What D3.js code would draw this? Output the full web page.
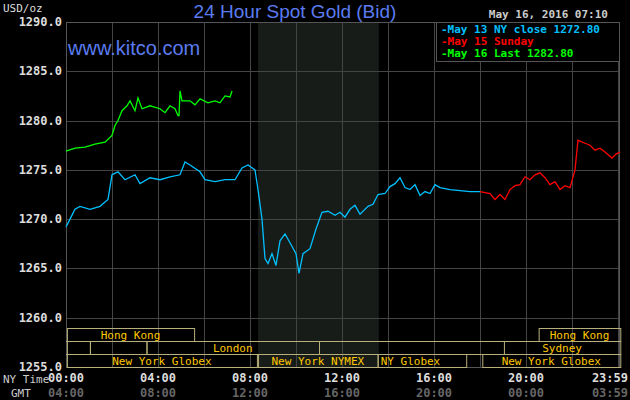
<!DOCTYPE html><html><head><meta charset="utf-8"><script src="https://cdn.jsdelivr.net/npm/d3@7"></script>
<style>body{margin:0;background:#000}</style></head><body><svg id="c" width="630" height="400"></svg><script>
const yTicks=[1290,1285,1280,1275,1270,1265,1260,1255];
const xTicksNY=["00:00","04:00","08:00","12:00","16:00","20:00","23:59"];
const xTicksGMT=["04:00","08:00","12:00","16:00","20:00","00:00","03:59"];
const xTickHours=[0,4,8,12,16,20,24];
const bluePx=[66,70,75,80,90,100,108,112,118,125,135,140,150,160,170,180,185,190,200,205,215,225,235,242,248,255,258,262,265,268,272,276,280,285,290,296,299,303,310,316,322,328,335,340,345,350,355,360,368,373,378,385,390,395,400,405,410,415,420,425,430,435,440,450,460,470,480];
const blueVal=[1269.2,1270,1271,1271.3,1271,1271.3,1272,1274.5,1274.8,1274,1274.5,1273.6,1274.2,1274,1274.3,1274.5,1275.8,1275.5,1274.8,1274,1273.8,1274,1274,1275.2,1275.5,1275,1273,1270,1266,1265.5,1266.5,1265.3,1267.8,1268.5,1267.6,1266.5,1264.5,1266.5,1267,1269,1270.7,1270.8,1270.4,1270.7,1270.2,1271,1271.4,1270.5,1271.3,1271.5,1272.5,1272.6,1273.3,1273.6,1274.2,1273.2,1273,1273.5,1272.4,1272.8,1272.6,1273.5,1273.2,1273,1272.9,1272.8,1272.8];
const redPx=[480,490,495,500,505,510,515,520,525,530,535,540,545,550,555,560,565,570,575,578,585,590,595,600,605,612,616,620];
const redVal=[1272.8,1272.6,1272,1272.5,1272,1273,1273.4,1273.5,1274.3,1274,1274.5,1274.7,1274.2,1273.5,1273.8,1273,1273.4,1273.2,1275,1278,1277.7,1277.5,1277,1277.2,1276.8,1276.2,1276.6,1276.8];
const greenPx=[66,75,85,95,105,112,115,118,122,127,130,135,138,142,150,160,165,170,175,178,179,180,182,190,195,200,208,215,220,225,230,232];
const greenVal=[1276.9,1277.2,1277.3,1277.6,1277.8,1278.5,1279.5,1280,1281,1281.5,1282,1281,1282.3,1281.2,1281.5,1281.2,1280.8,1281.5,1281.2,1280.5,1280.5,1283,1282,1282,1281.6,1282.2,1281.8,1282,1281.8,1282.5,1282.4,1283];
const toH=p=>(p-66)/23;
const blue=bluePx.map((p,i)=>[toH(p),blueVal[i]]),red=redPx.map((p,i)=>[toH(p),redVal[i]]),green=greenPx.map((p,i)=>[toH(p),greenVal[i]]);
const sessions=[["Hong Kong",0,0.04,5.57],["Hong Kong",0,20.55,24.1],["",1,0.04,1.04],["",1,1.04,3.5],["London",1,3.5,11],["Sydney",1,19.04,24.1],["New York Globex",2,0.04,8.3],["New York NYMEX",2,8.35,13.55],["NY Globex",2,13.55,17.4],["New York Globex",2,18.1,24.1]];
const svg=d3.select("#c");
const x=d3.scaleLinear().domain([0,24]).range([66,618]);
const y=d3.scaleLinear().domain([1255,1290]).range([367,22]);
const mono="'DejaVu Sans Mono',monospace";
svg.append("rect").attr("x",x(8.35)).attr("y",22).attr("width",x(13.6)-x(8.35)).attr("height",345).attr("fill","#181c18");
const g=svg.append("g").attr("stroke","#444").attr("stroke-width",1);
d3.range(0,25,2).forEach(h=>g.append("line").attr("x1",Math.round(x(h))+.5).attr("x2",Math.round(x(h))+.5).attr("y1",22).attr("y2",367));
yTicks.forEach(v=>g.append("line").attr("x1",66).attr("x2",620).attr("y1",Math.round(y(v))+.5).attr("y2",Math.round(y(v))+.5));
svg.append("rect").attr("x",66.5).attr("y",22.5).attr("width",553).attr("height",345).attr("fill","none").attr("stroke","#555");
yTicks.forEach(v=>svg.append("text").attr("x",62).attr("y",y(v)+4).attr("text-anchor","end").attr("fill","#ddd").attr("font-family",mono).attr("font-size",12).attr("font-weight","bold").text(v.toFixed(1)));
svg.append("text").attr("x",3).attr("y",12).attr("fill","#ddd").attr("font-family",mono).attr("font-size",11).text("USD/oz");
xTickHours.forEach((h,i)=>{const last=i==xTickHours.length-1;const ax=last?628:x(h),an=last?"end":"middle";
svg.append("text").attr("x",ax).attr("y",382).attr("text-anchor",an).attr("fill","#ddd").attr("font-family",mono).attr("font-size",12).attr("font-weight","bold").text(xTicksNY[i]);
svg.append("text").attr("x",ax).attr("y",397).attr("text-anchor",an).attr("fill","#666").attr("font-family",mono).attr("font-size",12).attr("font-weight","bold").text(xTicksGMT[i]);});
svg.append("text").attr("x",3).attr("y",383).attr("fill","#ccc").attr("font-family",mono).attr("font-size",11).text("NY Time");
svg.append("text").attr("x",11).attr("y",397).attr("fill","#ccc").attr("font-family",mono).attr("font-size",11).text("GMT");
svg.append("line").attr("x1",66).attr("x2",620).attr("y1",341.5).attr("y2",341.5).attr("stroke","#b8b07a");
svg.append("line").attr("x1",66).attr("x2",620).attr("y1",354.5).attr("y2",354.5).attr("stroke","#b8b07a");
sessions.forEach(s=>{const y0=328+s[1]*13;svg.append("rect").attr("x",x(s[2])+.5).attr("y",y0+.5).attr("width",x(s[3])-x(s[2])).attr("height",13).attr("fill","none").attr("stroke","#b8b07a");
if(s[0])svg.append("text").attr("x",s[0]=="NY Globex"?x(s[2])+3:(x(s[2])+x(s[3]))/2).attr("y",y0+11).attr("text-anchor",s[0]=="NY Globex"?"start":"middle").attr("fill","#ffc800").attr("font-family",mono).attr("font-size",11).text(s[0]);});
const line=d3.line().x(d=>x(d[0])).y(d=>y(d[1]));
[[blue,"#00c0ff"],[red,"#ff0000"],[green,"#00ff00"]].forEach(([d,c])=>svg.append("path").datum(d).attr("d",line).attr("fill","none").attr("stroke",c).attr("stroke-width",1.3));
svg.append("text").attr("x",295).attr("y",18).attr("text-anchor","middle").attr("fill","#5a7cf0").attr("font-family","Liberation Sans,Arial").attr("font-size",19).text("24 Hour Spot Gold (Bid)");
svg.append("text").attr("x",68).attr("y",55).attr("fill","#5a7cf0").attr("font-family","Liberation Sans,Arial").attr("font-size",20).text("www.kitco.com");
svg.append("text").attr("x",608).attr("y",18).attr("text-anchor","end").attr("fill","#ccc").attr("font-family",mono).attr("font-size",11).attr("font-weight","bold").text("May 16, 2016 07:10");
svg.append("rect").attr("x",436.5).attr("y",22.5).attr("width",183).attr("height",39).attr("fill","#000").attr("stroke","#555");
[["May 13 NY close 1272.80","#00c0ff"],["May 15 Sunday","#ff0000"],["May 16 Last 1282.80","#00ff00"]].forEach((l,i)=>svg.append("text").attr("x",441).attr("y",33+i*12).attr("fill",l[1]).attr("font-family",mono).attr("font-size",11).attr("font-weight","bold").text("-"+l[0]));
</script></body></html>
